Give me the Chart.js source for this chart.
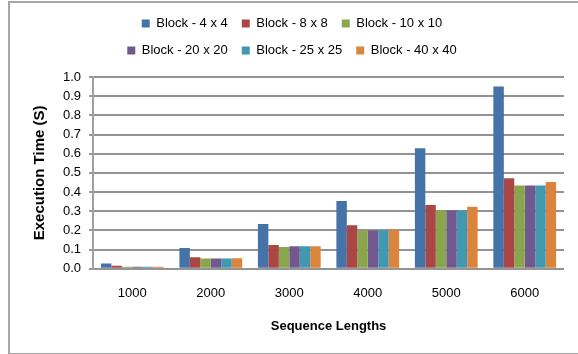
<!DOCTYPE html>
<html>
<head>
<meta charset="utf-8">
<script src="https://cdn.jsdelivr.net/npm/chart.js@4"></script>
<style>
  body { margin: 0; background: #fff; }
  #frame { position: absolute; left: 8px; top: 1px; width: 570px; height: 350px; border: 2px solid #a6a6a6; border-right: none; }
  #chartbox { width: 570px; height: 350px; }
</style>
</head>
<body>
<div id="frame"><div id="chartbox"><canvas id="exec-chart"></canvas></div></div>
<script>
const lengths = ["1000", "2000", "3000", "4000", "5000", "6000"];
const block4 = [0.027, 0.108, 0.233, 0.354, 0.628, 0.951];
const block8 = [0.016, 0.060, 0.124, 0.227, 0.333, 0.472];
const block10 = [0.011, 0.054, 0.114, 0.200, 0.305, 0.434];
const block20 = [0.011, 0.054, 0.118, 0.200, 0.305, 0.434];
const block25 = [0.011, 0.054, 0.118, 0.200, 0.305, 0.434];
const block40 = [0.011, 0.055, 0.118, 0.203, 0.323, 0.452];
const seriesNames = ["Block - 4 x 4", "Block - 8 x 8", "Block - 10 x 10", "Block - 20 x 20", "Block - 25 x 25", "Block - 40 x 40"];
const seriesColors = ["#4572A7", "#AA4643", "#89A54E", "#71588F", "#4198AF", "#DB843D"];
const yTicks = [0, 0.1, 0.2, 0.3, 0.4, 0.5, 0.6, 0.7, 0.8, 0.9, 1.0];

const allSeries = [block4, block8, block10, block20, block25, block40];
const datasets = allSeries.map(function (vals, i) {
  return {
    label: seriesNames[i],
    data: vals,
    backgroundColor: seriesColors[i],
    borderWidth: 0,
    categoryPercentage: 0.8,
    barPercentage: 1.0
  };
});

// excel puts the legend in two rows of three, so narrow the wrap width
const legendRows = {
  id: 'legendRows',
  afterInit(chart) {
    const lg = chart.legend;
    const fit = lg.fit;
    lg.fit = function () {
      this.maxWidth = Math.min(this.maxWidth, 400);
      fit.call(this);
      this.height += 10;
    };
  }
};

const font = "'Liberation Sans', Arial, sans-serif";

new Chart(document.getElementById("exec-chart"), {
  type: 'bar',
  data: { labels: lengths, datasets: datasets },
  plugins: [legendRows],
  options: {
    responsive: true,
    maintainAspectRatio: false,
    animation: false,
    layout: { padding: { left: 10, right: 16, top: 0, bottom: 14 } },
    plugins: {
      tooltip: { enabled: false },
      legend: {
        position: 'top',
        align: 'center',
        labels: {
          boxWidth: 8,
          boxHeight: 8,
          padding: 14,
          color: '#000',
          font: { family: font, size: 13 }
        }
      }
    },
    scales: {
      x: {
        grid: { display: false, drawTicks: false },
        border: { display: false },
        ticks: { color: '#000', padding: 17, font: { family: font, size: 13 } },
        title: {
          display: true,
          text: 'Sequence Lengths',
          color: '#000',
          padding: { top: 0, bottom: 5 },
          font: { family: font, size: 13, weight: 'bold' }
        }
      },
      y: {
        min: 0,
        max: 1,
        afterBuildTicks: function (axis) {
          axis.ticks = yTicks.map(function (v) { return { value: v }; });
        },
        grid: { color: '#939393', lineWidth: 2, tickLength: 4 },
        border: { display: true, color: '#a0a0a0', width: 2 },
        ticks: {
          color: '#000',
          padding: 8,
          autoSkip: false,
          font: { family: font, size: 13 },
          callback: function (v) { return Number(v).toFixed(1); }
        },
        title: {
          display: true,
          text: 'Execution Time (S)',
          color: '#000',
          padding: { top: 11, bottom: 6 },
          font: { family: font, size: 15, weight: 'bold' }
        }
      }
    }
  }
});
</script>
</body>
</html>
